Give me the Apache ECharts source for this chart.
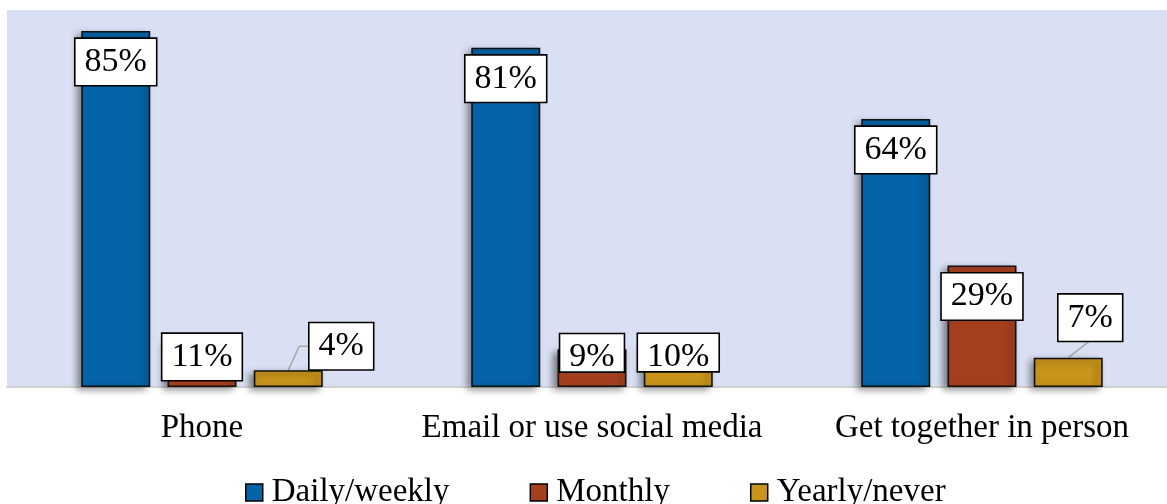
<!DOCTYPE html>
<html>
<head>
<meta charset="utf-8">
<script src="https://cdn.jsdelivr.net/npm/echarts@6/dist/echarts.min.js"></script>
<style>
  html, body { margin: 0; padding: 0; background: #ffffff; }
  #chart { width: 1167px; height: 504px; }
</style>
</head>
<body>
<div id="chart"></div>
<script>
// ---- data ----
const categories = ['Phone', 'Email or use social media', 'Get together in person'];
const seriesNames = ['Daily/weekly', 'Monthly', 'Yearly/never'];
const dailyWeekly = [85, 81, 64];
const monthly = [11, 9, 29];
const yearlyNever = [4, 10, 7];

// ---- layout / style (not data) ----
const colors = ['#0563A8', '#A5401F', '#C8941A'];
const FONT = '"Liberation Serif", "Times New Roman", serif';
const BAR_W = 69;
const BAR_GAP = 0.25;
const LABEL_DIST = 8;
const LABEL_FS = 34;
const LABEL_PAD = [6, 9, 6, 9];
const LABEL_H = LABEL_FS + LABEL_PAD[0] + LABEL_PAD[2];
// label moves [dx, dy] keyed "seriesIndex-dataIndex"
const labelMoves = {
  '1-0': [0, -15],
  '2-0': [53, -55],
  '1-1': [0, -23],
  '2-1': [0, -19],
  '2-2': [22, -71]
};
// leader lines: kind + approx half width of the label box
const leaders = { '2-0': { kind: 'elbow', halfW: 31 }, '2-2': { kind: 'straight', halfW: 31 } };
const shortBoxes = { '1-1': true, '2-1': true };

const chart = echarts.init(document.getElementById('chart'), null, { renderer: 'canvas' });

const valuesList = [dailyWeekly, monthly, yearlyNever];

function makeData(values, sIdx) {
  return values.map((v, i) => {
    const key = sIdx + '-' + i;
    const item = { value: v };
    if (shortBoxes[key]) item.label = { padding: [6, 9, -3, 9] };
    return item;
  });
}

function labelLayout(params) {
  const mv = labelMoves[params.seriesIndex + '-' + params.dataIndex];
  if (!mv) return {};
  return { dx: mv[0], dy: mv[1] };
}

const series = valuesList.map((vals, s) => ({
  name: seriesNames[s],
  type: 'bar',
  barWidth: BAR_W,
  barGap: (BAR_GAP * 100) + '%',
  z: 2,
  data: makeData(vals, s),
  itemStyle: {
    color: colors[s],
    borderColor: '#111111',
    borderWidth: 1.6,
    shadowColor: 'rgba(0,0,0,0.45)',
    shadowBlur: 7,
    shadowOffsetX: -4,
    shadowOffsetY: 3
  },
  label: {
    show: true,
    position: 'insideTop',
    distance: LABEL_DIST,
    formatter: '{c}%',
    fontFamily: FONT,
    fontSize: LABEL_FS,
    lineHeight: LABEL_FS,
    color: '#000000',
    backgroundColor: '#FFFFFF',
    borderColor: '#000000',
    borderWidth: 1.6,
    padding: LABEL_PAD
  },
  labelLayout: labelLayout,
  emphasis: { disabled: true },
  animation: false
}));

// leader lines (custom series) built from the same values
const leaderData = [];
Object.keys(leaders).forEach(key => {
  const [s, i] = key.split('-').map(Number);
  leaderData.push([i, valuesList[s][i], s, labelMoves[key][0], labelMoves[key][1], leaders[key].kind === 'elbow' ? 1 : 0, leaders[key].halfW]);
});

series.push({
  type: 'custom',
  z: 2,
  silent: true,
  data: leaderData,
  encode: { x: 0, y: 1 },
  renderItem: function (params, api) {
    const cat = api.value(0), v = api.value(1), s = api.value(2);
    const dx = api.value(3), dy = api.value(4), elbow = api.value(5), halfW = api.value(6);
    const base = api.coord([cat, v]);
    const step = BAR_W * (1 + BAR_GAP);
    const cx = base[0] + (s - 1) * step;
    const top = base[1];
    const lcx = cx + dx;
    const ltop = top + LABEL_DIST + dy;
    let pts;
    if (elbow) {
      pts = [[cx, top], [lcx - halfW - 11, ltop + LABEL_H / 2], [lcx, ltop + LABEL_H / 2]];
    } else {
      pts = [[cx, top], [lcx, ltop + LABEL_H]];
    }
    return {
      type: 'polyline',
      z2: 0,
      shape: { points: pts },
      style: { stroke: '#A6A6A6', lineWidth: 1.5, fill: null }
    };
  },
  animation: false
});

const option = {
  animation: false,
  backgroundColor: '#FFFFFF',
  grid: {
    show: true,
    left: 7,
    width: 1170,
    top: 10,
    bottom: 117,
    backgroundColor: '#DAE0F3',
    borderWidth: 0,
    containLabel: false,
    outerBoundsMode: 'none'
  },
  legend: {
    data: seriesNames.map(n => ({ name: n, icon: 'rect' })),
    left: 245,
    top: 476,
    padding: 0,
    itemWidth: 17,
    itemHeight: 17,
    itemGap: 80,
    itemStyle: { borderColor: '#000000', borderWidth: 1.5, shadowBlur: 0, shadowOffsetX: 0, shadowOffsetY: 0 },
    textStyle: { fontFamily: FONT, fontSize: 33, color: '#000000', padding: [0, 0, 0, 4] },
    selectedMode: false
  },
  xAxis: {
    type: 'category',
    data: categories,
    axisLine: { show: true, lineStyle: { color: '#D0D0D0', width: 2 } },
    axisTick: { show: false },
    axisLabel: { fontFamily: FONT, fontSize: 33, color: '#000000', margin: 25, interval: 0 },
    splitLine: { show: false }
  },
  yAxis: {
    type: 'value',
    min: 0,
    max: 90,
    interval: 10,
    show: false,
    splitLine: { show: false }
  },
  series: series
};

chart.setOption(option);
</script>
</body>
</html>
